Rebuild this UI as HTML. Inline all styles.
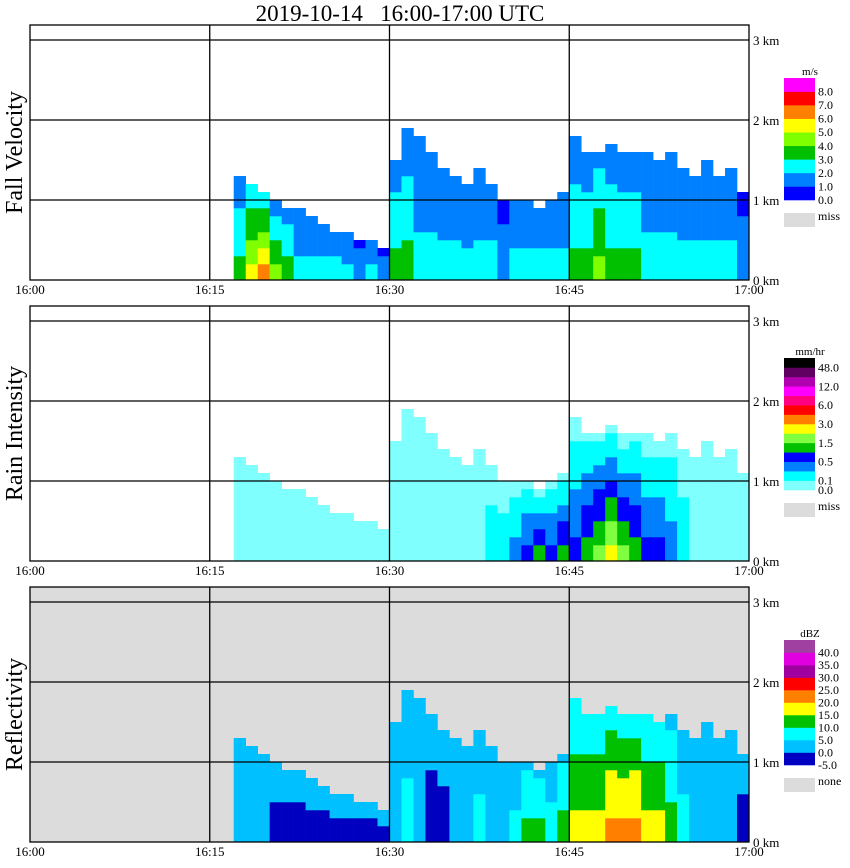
<!DOCTYPE html>
<html><head><meta charset="utf-8"><style>
body{margin:0;background:#fff;width:850px;height:868px;overflow:hidden}
svg{display:block}
text{font-family:"Liberation Serif",serif;fill:#000}
</style></head><body>
<svg id="chart" width="850" height="868" viewBox="0 0 850 868" xmlns="http://www.w3.org/2000/svg"></svg>
<script>
// ---- data (per minute 0..59 after 16:00) ----
const minutes = Array.from({length:60},(_, i)=>i);
const echoTops = [0,0,0,0,0,0,0,0,0,0,0,0,0,0,0,0,0,1.3,1.2,1.05,0.95,0.9,0.85,0.75,0.7,0.6,0.55,0.5,0.45,0.35,
 1.5,1.9,1.75,1.6,1.4,1.3,1.15,1.4,1.2,1.0,0.95,1.0,0.9,1.0,1.1,1.75,1.6,1.6,1.7,1.55,1.6,1.55,1.5,1.6,1.4,1.3,1.45,1.3,1.4,1.1];
const velSurface = [0,0,0,0,0,0,0,0,0,0,0,0,0,0,0,0,0,3,5,6,4,3,2,2,2,2,2,1,2,1,3,3,2,2,2,2,2,2,2,1,2,2,2,2,2,3,3,4,3,3,3,2,2,2,2,2,2,2,2,1];
const rainSurface = [0,0,0,0,0,0,0,0,0,0,0,0,0,0,0,0,0,0,0,0,0,0,0,0,0,0,0,0,0,0,0,0,0,0,0,0,0,0,1,1,2,3,4,3,4,3,4,5,6,5,4,3,3,2,1,0,0,0,0,0];
const reflSurface = [0,0,0,0,0,0,0,0,0,0,0,0,0,0,0,0,0,1,1,1,0,0,0,0,0,0,0,0,0,0,1,2,1,0,0,1,1,2,1,1,2,3,3,2,3,4,4,4,5,5,5,4,4,3,2,1,1,1,1,0];
const timeLabels = ["16:00","16:15","16:30","16:45","17:00"];
const kmLabels = ["0 km","1 km","2 km","3 km"];
const velColors = ["#0000ff","#0080ff","#00ffff","#00c000","#80ff00","#ffff00","#ff8000","#ff0000","#ff00ff"];
const velTicks = ["8.0","7.0","6.0","5.0","4.0","3.0","2.0","1.0","0.0"];
const rainColors = ["#80ffff","#00ffff","#0080ff","#0000ff","#00c000","#80ff40","#ffff00","#ff8000","#ff0000","#ff0080","#ff00ff","#b000b0","#600060","#000000"];
const rainTicks = ["48.0","12.0","6.0","3.0","1.5","0.5","0.1","0.0"];
const reflColors = ["#0000c0","#00c0ff","#00ffff","#00c000","#ffff00","#ff8000","#ff0000","#a000a0","#e000e0","#a040a0"];
const reflTicks = ["40.0","35.0","30.0","25.0","20.0","15.0","10.0","5.0","0.0","-5.0"];

const svg = document.getElementById('chart');
const NS = "http://www.w3.org/2000/svg";
function el(tag, attrs, parent){const e=document.createElementNS(NS,tag);for(const k in attrs)e.setAttribute(k,attrs[k]);(parent||svg).appendChild(e);return e;}
const X0=30, X1=749;
function xScale(m){return X0 + m*(X1-X0)/60;}
function yScale(km, base){return base - km*80;}

const title = el('text',{x:400,y:21,'font-size':23,'text-anchor':'middle','xml:space':'preserve'});


title.textContent='2019-10-14\u00a0\u00a0\u00a016:00-17:00 UTC';

const panels = [
 {name:'fall-velocity', label:'Fall Velocity', base:280, top:25, surf:velSurface, colors:velColors, bg:null, mode:'vel', unit:'m/s', ticks:velTicks, cbTop:78, cbBot:200, miss:'miss'},
 {name:'rain-intensity', label:'Rain Intensity', base:561, top:306, surf:rainSurface, colors:rainColors, bg:null, mode:'rain', unit:'mm/hr', ticks:rainTicks, cbTop:358, cbBot:490, miss:'miss'},
 {name:'reflectivity', label:'Reflectivity', base:842, top:587, surf:reflSurface, colors:reflColors, bg:'#dcdcdc', mode:'refl', unit:'dBZ', ticks:reflTicks, cbTop:640, cbBot:765, miss:'none'}
];

panels.forEach(p=>{
  const g = el('g',{});
  
  
  if(p.bg){const bg=el('rect',{x:X0,y:p.top,width:X1-X0,height:p.base-p.top,fill:p.bg},g);
    
    }
  const cw=(X1-X0)/60;
  minutes.forEach(m=>{
    const top=echoTops[m]; if(!top) return;
    const s=p.surf[m];
    for(let h=0; h<top-0.001; h+=0.1){
      const f=h/top; let lv;
      if(p.mode==='vel') lv=Math.max(0,Math.round(s*(1-0.75*f)));
      else if(p.mode==='rain') lv=Math.max(0,Math.round(s*(1-f)));
      else {
        if(s===0) lv = f<0.5 ? 0 : 1;
        else lv = Math.max(1, Math.round(s*(1-0.6*f)));
        if(f>0.8) lv=Math.min(lv,2);
      }
      const r=el('rect',{x:xScale(m),y:yScale(h+0.1,p.base),width:cw+0.3,height:8.3,fill:p.colors[lv]},g);
      
      
    }
  });
  el('rect',{x:X0,y:p.top,width:X1-X0,height:p.base-p.top,fill:'none',stroke:'#000','stroke-width':1.3},g);
  for(let k=1;k<=3;k++){el('line',{x1:X0,x2:X1,y1:yScale(k,p.base),y2:yScale(k,p.base),stroke:'#000','stroke-width':1.3},g);}
  [15,30,45].forEach(m=>el('line',{x1:xScale(m),x2:xScale(m),y1:p.top,y2:p.base,stroke:'#000','stroke-width':1.3},g));
  timeLabels.forEach((t,i)=>{const tx=el('text',{x:xScale(i*15),y:p.base+14,'font-size':13,'text-anchor':'middle'},g);
    tx.textContent=t;});
  kmLabels.forEach((t,i)=>{const tx=el('text',{x:753,y:yScale(i,p.base)+5,'font-size':13},g);
    tx.textContent=t;});
  const yl=el('text',{x:22,y:(p.top+p.base)/2,'font-size':24,'text-anchor':'middle',transform:`rotate(-90 22 ${(p.top+p.base)/2})`},g);
  yl.textContent=p.label;
  const cb=el('g',{},svg);
  
  
  const n=p.colors.length, bh=(p.cbBot-p.cbTop)/n;
  p.colors.forEach((c,i)=>{el('rect',{x:784,y:p.cbBot-(i+1)*bh,width:31,height:bh+0.3,fill:c},cb);});
  const u=el('text',{x:810,y:p.cbTop-3,'font-size':11,'text-anchor':'middle'},cb);u.textContent=p.unit;
  const tickCount=p.ticks.length;
  p.ticks.forEach((t,i)=>{
    let ty;
    if(p.mode==='rain'){const idx=[13,11,9,7,5,3,1,0][i]; ty=p.cbBot-idx*bh;}
    else ty=p.cbBot-(tickCount-1-i)*bh;
    const tx=el('text',{x:818,y:ty+4,'font-size':12},cb);tx.textContent=t;});
  el('rect',{x:784,y:p.cbBot+13,width:31,height:14,fill:'#dcdcdc'},cb);
  const ms=el('text',{x:818,y:p.cbBot+20,'font-size':12},cb);ms.textContent=p.miss;
});
</script>
</body></html>
